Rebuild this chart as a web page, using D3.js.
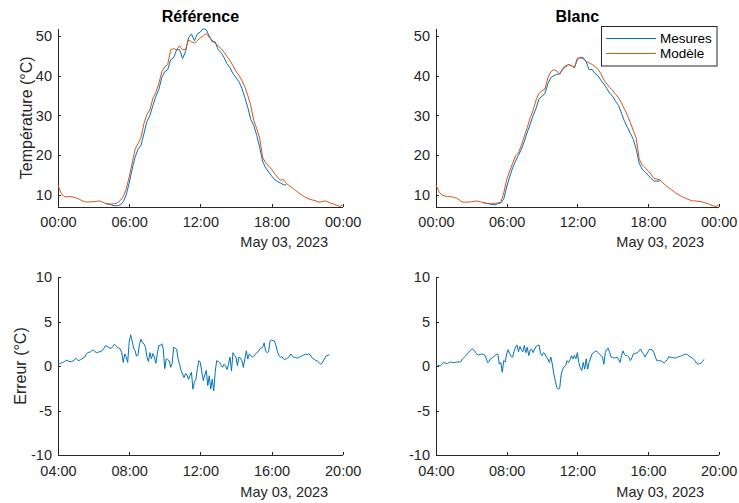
<!DOCTYPE html>
<html><head><meta charset="utf-8">
<script src="https://cdn.jsdelivr.net/npm/d3@7"></script>
<style>
body{margin:0;background:#fff}
svg{display:block}
text{font-family:"Liberation Sans",Arial,Helvetica,sans-serif}
</style>
</head><body>
<svg id="chart" width="739" height="503"></svg>
<script>
// ---------------- data ----------------
const panelTitles = ["Référence", "Blanc"];
const seriesNames = ["Mesures", "Modèle"];
const dateLabel = "May 03, 2023";
const tempLabel = "Température (°C)";
const errLabel = "Erreur (°C)";
const topTickHours = [0, 6, 12, 18, 24];
const bottomTickHours = [4, 8, 12, 16, 20];
const tempTicks = [10, 20, 30, 40, 50];
const errTicks = [-10, -5, 0, 5, 10];
const tempDomain = [6.9, 51.9];
const errDomain = [-10, 10];
const topDomainHours = [0, 24];
const bottomDomainHours = [4, 20];

const modelStart = "00:00", modelStepMin = 15;
const measStart = "04:00", measStepMin = 15;
const errStart = "04:00", errStepMin = 5;

const modelRef = [12.5,10.5,9.6,9.5, 9.6,9.5,9.3,9.0, 8.6,8.3,8.2,8.3, 8.3,8.4,8.5,8.2,
  7.9,7.8,7.7,7.8, 8.0,8.6,9.6,11.5, 14.5,18.0,21.5,22.9, 24.5,28.0,30.3,31.4,
  34.3,35.8,38.0,41.0, 42.2,42.8,46.5,46.8, 46.5,47.5,46.5,46.6, 49.0,48.5,48.2,48.8,
  49.5,50.0,50.6,49.6, 49.0,48.1,47.5,46.8, 45.9,44.8,43.8,42.5, 41.1,40.1,38.8,37.2,
  35.0,32.5,28.8,26.7, 24.3,19.5,18.1,17.3, 16.5,15.4,14.5,13.7, 13.9,12.9,12.3,11.8,
  11.2,10.6,10.1,9.6, 9.2,8.9,8.7,8.5, 8.2,8.3,8.5,8.3, 7.9,7.7,7.4,7.1, 7.5];
const measRef = [7.8,7.7,7.5,7.3, 7.3,7.5,8.3,10.0, 13.0,16.5,19.5,21.5, 22.5,25.5,28.5,30.0,
  32.5,34.8,36.5,39.5, 41.0,41.5,44.0,44.5, 46.5,46.5,44.3,46.0, 49.5,50.5,48.8,50.5,
  51.0,51.8,51.5,50.0, 48.5,48.5,46.5,45.8, 44.5,43.0,42.0,40.5, 39.5,38.5,36.8,34.5,
  32.0,29.0,27.5,25.0, 22.0,18.5,16.8,15.8, 14.8,13.9,13.4,13.0, 12.6,12.5];
const modelBlanc = [12.5,10.8,10.0,9.7, 9.6,9.6,9.4,9.2, 8.7,8.2,8.2,8.2, 8.3,8.4,8.5,8.3,
  8.1,7.9,7.8,7.8, 7.9,8.0,8.2,10.5, 13.8,16.0,17.9,19.8, 20.6,22.5,24.8,27.0,
  29.4,31.3,33.9,35.6, 36.2,36.6,39.5,41.0, 41.5,41.2,40.3,41.8, 42.5,42.7,42.5,42.0,
  44.4,44.5,44.2,43.6, 43.2,42.8,42.3,41.6, 40.5,38.9,37.9,37.0, 36.3,35.3,34.4,33.1,
  31.6,30.0,28.2,26.2, 24.3,19.0,17.6,16.8, 16.1,15.2,14.2,14.0, 13.8,13.1,12.4,11.8,
  11.3,10.7,10.2,9.8, 9.4,9.1,8.8,8.5, 8.5,8.4,8.3,8.1, 7.9,7.6,7.3,7.1, 7.5];
const measBlanc = [8.1,7.9,7.8,7.6, 7.5,7.8,8.0,9.0, 12.0,14.5,16.8,18.5, 20.0,21.5,23.5,25.8,
  27.8,30.0,31.8,34.2, 34.8,35.5,38.0,39.5, 40.0,40.3,40.5,41.5, 42.2,42.8,42.5,42.0,
  44.0,44.6,44.5,43.5, 41.5,41.6,40.5,40.0, 38.8,37.9,36.8,35.5, 34.8,33.5,32.5,30.5,
  28.5,27.0,25.5,24.0, 21.5,18.0,16.5,15.8, 15.0,14.2,13.5,13.5, 13.5];

const errRef = [0.2,0.25,0.3,0.4,0.45,0.6,0.65,0.55,0.5,0.5,0.55,0.7,
  0.85,0.7,0.6,0.7,0.8,0.9,1.0,1.3,1.5,1.55,1.6,1.75,
  1.8,1.6,1.5,1.55,1.6,1.65,1.75,2.0,2.3,2.2,2.1,2.0,
  2.0,2.2,2.45,2.3,2.1,2.0,1.9,1.5,0.4,1.35,1.0,0.4,
  2.7,3.5,2.8,2.0,1.7,1.1,1.3,2.5,3.0,2.6,2.5,2.1,
  1.0,0.5,1.5,0.8,1.4,1.0,0.3,1.4,2.3,2.3,2.5,1.9,
  -0.3,0.8,0.7,0.6,-0.15,0.3,2.1,2.0,1.9,0.8,0.2,-0.5,
  -0.9,-1.3,-0.85,-1.0,-1.5,-1.1,-0.7,-2.6,-1.8,-1.5,-0.3,0.6,
  0.4,-0.7,-1.65,-1.0,-0.5,-2.2,-1.1,-2.6,-1.5,-2.8,-0.7,0.6,
  0.5,0.4,0.1,-0.15,0.2,0.0,-0.4,0.2,1.0,-0.55,1.5,1.2,
  1.0,0.03,1.0,0.9,0.6,-0.15,0.8,1.7,0.8,1.35,1.2,1.0,
  1.1,1.3,1.5,1.6,1.9,2.0,2.1,2.6,1.7,1.5,1.6,2.8,
  2.9,2.85,2.8,2.3,1.6,1.16,1.0,1.05,0.8,0.75,0.8,0.9,
  1.1,1.35,1.1,1.0,0.95,0.9,0.9,1.0,1.1,1.2,1.25,1.3,
  1.3,1.35,1.3,1.0,0.8,0.75,0.6,0.55,0.4,0.2,0.3,0.6,
  0.9,1.16,1.2,1.3];
const errBlanc = [0.03,0.03,0.03,0.03,0.2,0.4,0.35,0.3,0.3,0.4,0.45,0.4,
  0.4,0.4,0.45,0.45,0.45,0.5,0.8,0.95,1.1,1.3,1.5,1.7,
  1.85,1.9,1.75,1.5,1.3,1.24,1.3,1.35,1.3,1.24,0.9,0.4,
  0.5,0.8,0.9,1.0,1.2,1.3,1.35,0.2,0.4,-0.7,0.6,0.45,
  1.35,1.83,1.4,1.1,1.0,1.6,2.1,2.36,1.6,2.2,1.8,1.6,
  2.3,1.5,2.1,1.16,1.8,1.9,1.5,1.9,2.2,2.3,2.36,1.4,
  1.16,1.5,1.35,1.0,0.8,0.4,1.0,0.2,-0.9,-1.65,-2.4,-2.6,
  -2.5,-1.0,-0.35,-0.1,0.03,0.6,0.4,0.7,1.16,0.8,1.2,0.8,
  1.5,0.4,-0.2,-0.5,0.4,-0.35,0.8,-0.35,0.4,0.9,1.35,1.5,
  1.6,1.7,1.5,1.35,1.2,1.0,0.2,1.5,1.9,2.0,1.5,1.0,
  0.95,0.9,0.95,1.0,0.7,0.4,1.2,1.7,1.3,1.16,1.16,1.0,
  0.6,0.9,1.35,1.4,1.45,1.5,1.7,1.9,1.5,1.35,1.0,1.3,
  1.6,1.9,1.85,1.8,1.5,1.0,0.6,0.6,0.6,0.55,0.45,0.35,
  0.5,0.7,1.05,1.0,0.95,0.95,0.9,0.9,1.0,1.05,1.1,1.16,
  1.25,1.3,1.35,1.25,1.1,1.0,0.9,0.75,0.6,0.3,0.2,0.3,
  0.3,0.5,0.75];

// ---------------- style / layout ----------------
const colMeas = "#0072BD", colModel = "#D95319", axisCol = "#262626";
const tickFont = 14.5, labelFont = 16, legendFont = 13.5;
const cols = [{l: 58, r: 342.7}, {l: 436, r: 718.7}];
const rows = [{t: 28.3, b: 207.3, pad: 9.2}, {t: 277, b: 455, pad: 11}];

const svg = d3.select("#chart");
const day = new Date(2023, 4, 3, 0, 0);
const atHM = s => { const [h, m] = s.split(":").map(Number); return d3.timeMinute.offset(day, h * 60 + m); };
const atHour = h => d3.timeHour.offset(day, h);
const times = (start, step, n) => d3.range(n).map(i => d3.timeMinute.offset(atHM(start), i * step));
const fmt = d3.timeFormat("%H:%M");

function drawAxes(g, x, y, xt, yt, pad, yLabel, yLabelX) {
  const ax = g.append("g").attr("transform", `translate(0,${y.range()[0]})`)
    .call(d3.axisBottom(x).tickValues(xt).tickFormat(fmt).tickSizeInner(-3).tickSizeOuter(0).tickPadding(pad));
  const ay = g.append("g").attr("transform", `translate(${x.range()[0]},0)`)
    .call(d3.axisLeft(y).tickValues(yt).tickFormat(d3.format("d")).tickSizeInner(-3).tickSizeOuter(0).tickPadding(6));
  [ax, ay].forEach(a => {
    a.selectAll("path,line").attr("stroke", axisCol).attr("stroke-width", 1).attr("shape-rendering", "crispEdges");
    a.selectAll("text").attr("fill", axisCol).style("font-size", tickFont + "px").style("font-family", '"Liberation Sans",Arial,sans-serif');
  });
  ay.selectAll("text").text(d => d < 0 ? "-" + Math.abs(d) : d);
  g.append("text").attr("x", x.range()[1] - 14.5).attr("y", y.range()[0] + pad + 30.5)
    .attr("text-anchor", "end").attr("fill", axisCol).style("font-size", tickFont + "px").text(dateLabel);
  if (yLabel) {
    g.append("text").attr("transform", `translate(${yLabelX},${(y.range()[0] + y.range()[1]) / 2}) rotate(-90)`)
      .attr("text-anchor", "middle").attr("fill", axisCol).style("font-size", labelFont + "px").text(yLabel);
  }
}

const panels = [
  {model: modelRef, meas: measRef, err: errRef},
  {model: modelBlanc, meas: measBlanc, err: errBlanc}
];

panels.forEach((p, i) => {
  const c = cols[i];
  // top: temperatures
  const xT = d3.scaleTime().domain(topDomainHours.map(atHour)).range([c.l, c.r]);
  const yT = d3.scaleLinear().domain(tempDomain).range([rows[0].b, rows[0].t]);
  const gT = svg.append("g");
  drawAxes(gT, xT, yT, topTickHours.map(atHour), tempTicks, rows[0].pad, i === 0 ? tempLabel : null, 31.5);
  const lineT = d3.line().x(d => xT(d[0])).y(d => yT(d[1]));
  const tMeas = times(measStart, measStepMin, p.meas.length);
  const tModel = times(modelStart, modelStepMin, p.model.length);
  gT.append("path").datum(d3.zip(tMeas, p.meas)).attr("d", lineT)
    .attr("fill", "none").attr("stroke", colMeas).attr("stroke-width", 1);
  gT.append("path").datum(d3.zip(tModel, p.model)).attr("d", lineT)
    .attr("fill", "none").attr("stroke", colModel).attr("stroke-width", 1);
  gT.append("text").attr("x", (c.l + c.r) / 2).attr("y", 21.5).attr("text-anchor", "middle")
    .attr("fill", "#000").style("font-size", labelFont + "px").style("font-weight", "bold").text(panelTitles[i]);

  // bottom: error
  const xB = d3.scaleTime().domain(bottomDomainHours.map(atHour)).range([c.l, c.r]);
  const yB = d3.scaleLinear().domain(errDomain).range([rows[1].b, rows[1].t]);
  const gB = svg.append("g");
  drawAxes(gB, xB, yB, bottomTickHours.map(atHour), errTicks, rows[1].pad, i === 0 ? errLabel : null, 26);
  const lineB = d3.line().x(d => xB(d[0])).y(d => yB(d[1]));
  gB.append("path").datum(d3.zip(times(errStart, errStepMin, p.err.length), p.err)).attr("d", lineB)
    .attr("fill", "none").attr("stroke", colMeas).attr("stroke-width", 1);

  if (i === 1) {
    const lg = svg.append("g");
    lg.append("rect").attr("x", 601.5).attr("y", 26.5).attr("width", 115.5).attr("height", 39.5)
      .attr("fill", "#fff").attr("stroke", axisCol).attr("stroke-width", 1);
    [colMeas, colModel].forEach((col, k) => {
      const yy = 38.5 + k * 15;
      lg.append("line").attr("x1", 606).attr("x2", 656).attr("y1", yy).attr("y2", yy)
        .attr("stroke", col).attr("stroke-width", 1);
      lg.append("text").attr("x", 660).attr("y", yy + 4.8).attr("fill", "#000")
        .style("font-size", legendFont + "px").text(seriesNames[k]);
    });
  }
});
</script>
</body></html>
